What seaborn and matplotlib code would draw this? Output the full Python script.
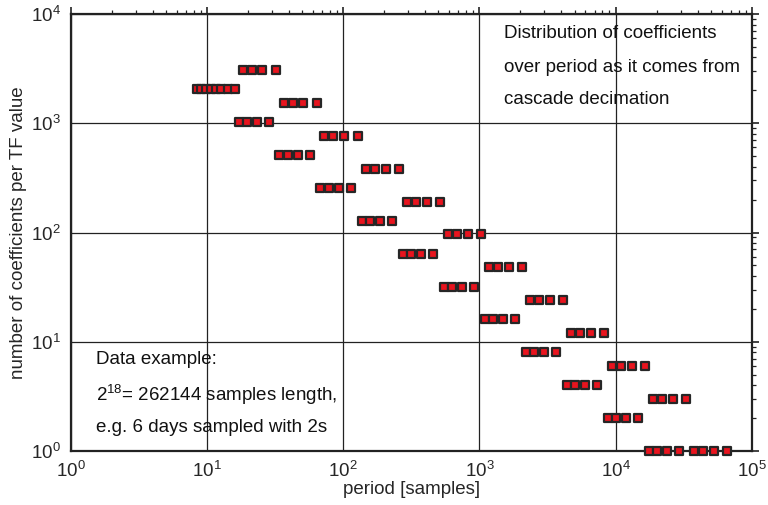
import numpy as np
import pandas as pd
import seaborn as sns
import matplotlib
matplotlib.use("Agg")
import matplotlib.pyplot as plt
from matplotlib.ticker import LogLocator, NullFormatter

# number of coefficients per TF value for each group of periods
counts = [2048, 3072, 1024, 1536, 512, 768, 256, 384, 128, 192, 64, 96,
          32, 48, 16, 24, 8, 12, 4, 6, 2, 3, 1]

# periods [samples] of the coefficients in each group
periods = [
    [8.5, 9.1, 9.8, 10.7, 11.6, 12.8, 14.2, 16],
    [18.3, 21.3, 25.6, 32],
    [17.1, 19.7, 23.3, 28.4],
    [36.6, 42.7, 51.2, 64],
    [34.1, 39.4, 46.5, 56.9],
    [73, 85, 102, 128],
    [68, 79, 93, 114],
    [146, 171, 205, 256],
    [137, 158, 186, 228],
    [293, 341, 410, 512],
    [273, 315, 372, 455],
    [585, 683, 819, 1024],
    [546, 630, 745, 910],
    [1170, 1365, 1638, 2048],
    [1092, 1260, 1489, 1820],
    [2341, 2731, 3277, 4096],
    [2185, 2521, 2979, 3641],
    [4681, 5461, 6554, 8192],
    [4369, 5041, 5958, 7282],
    [9362, 10923, 13107, 16384],
    [8738, 10082, 11916, 14564],
    [18725, 21845, 26214, 32768],
    [17476, 20165, 23831, 29127, 37449, 43691, 52429, 65536],
]

rows = [(p, c) for c, ps in zip(counts, periods) for p in ps]
df = pd.DataFrame(rows, columns=["period", "count"])

sns.set_theme(style="white")
plt.rcParams["font.family"] = ["Liberation Sans", "DejaVu Sans"]
plt.rcParams["mathtext.fontset"] = "custom"
plt.rcParams["mathtext.rm"] = "Liberation Sans"
plt.rcParams["mathtext.it"] = "Liberation Sans"

fig = plt.figure(figsize=(7.68, 5.05), dpi=100)
ax = fig.add_axes([70.5 / 768, 1 - 451 / 505, (752 - 70.5) / 768, (451 - 14) / 505])

ax.set_xscale("log")
ax.set_yscale("log")
ax.set_xlim(1, 1e5)
ax.set_ylim(1, 1e4)

ax.grid(True, which="major", color="#222222", linewidth=0.9, zorder=0)
ax.set_axisbelow(True)

sns.scatterplot(data=df, x="period", y="count", ax=ax, marker="s", s=36,
                color="#e8141e", edgecolor="#262626", linewidth=1.6,
                legend=False, zorder=3, clip_on=False)

for side in ["left", "right", "top", "bottom"]:
    ax.spines[side].set_color("#222222")
    ax.spines[side].set_linewidth(1.6)

for axis in (ax.xaxis, ax.yaxis):
    axis.set_major_locator(LogLocator(base=10, numticks=10))
    axis.set_minor_locator(LogLocator(base=10, subs=np.arange(2, 10), numticks=20))
    axis.set_minor_formatter(NullFormatter())

ax.tick_params(which="major", direction="out", length=5, width=1.2,
               color="#222222", labelsize=13.5, top=True, right=True,
               labeltop=False, labelright=False, pad=2)
ax.tick_params(which="minor", direction="out", length=3, width=0.9,
               color="#222222", top=True, right=True)

ax.set_xlabel("period [samples]", fontsize=13.5, labelpad=0)
ax.set_ylabel("number of coefficients per TF value", fontsize=13.5, labelpad=3)

txt = dict(fontsize=13.5, color="#111111", ha="left", va="center",
           transform=ax.transAxes)
x0 = (504 - 70.5) / (752 - 70.5)
for y, s in [(33, "Distribution of coefficients"),
             (67, "over period as it comes from"),
             (99, "cascade decimation")]:
    ax.text(x0, (451 - y) / 437, s, **txt)

x1 = (96 - 70.5) / (752 - 70.5)
for y, s in [(360, "Data example:"),
             (395, r"2$^{18}$= 262144 samples length,"),
             (427, "e.g. 6 days sampled with 2s")]:
    ax.text(x1, (451 - y) / 437, s, **txt)

fig.savefig("out.png", dpi=100)
